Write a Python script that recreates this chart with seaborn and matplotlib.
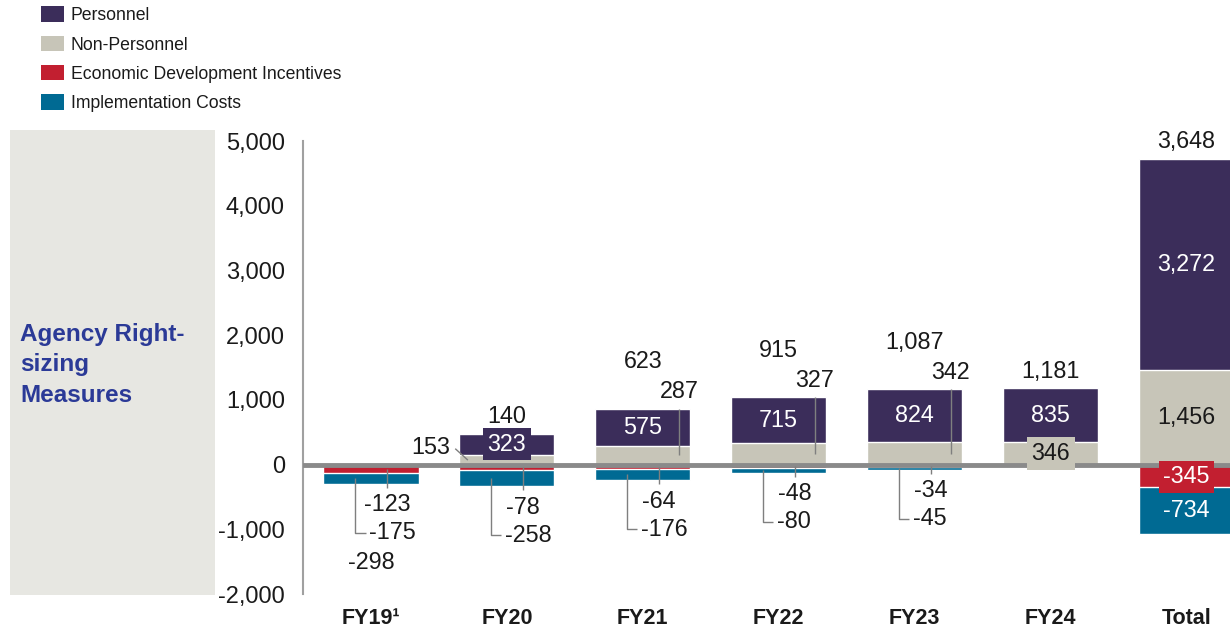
import matplotlib
matplotlib.use('Agg')
import matplotlib.pyplot as plt
import seaborn as sns
import numpy as np
import pandas as pd
from matplotlib.patches import Rectangle, Patch

# ---------------- data ----------------
categories = ['FY19\u00b9', 'FY20', 'FY21', 'FY22', 'FY23', 'FY24', 'Total']
personnel = [0, 323, 575, 715, 824, 835, 3272]
non_personnel = [0, 153, 287, 327, 342, 346, 1456]
econ_dev = [-123, -78, -64, -48, -34, 0, -345]
implementation = [-175, -258, -176, -80, -45, 0, -734]
net_totals = [-298, 140, 623, 915, 1087, 1181, 3648]
y_ticks = [-2000, -1000, 0, 1000, 2000, 3000, 4000, 5000]
legend_labels = ['Personnel', 'Non-Personnel', 'Economic Development Incentives', 'Implementation Costs']
side_title = 'Agency Right-\nsizing\nMeasures'

# label placement styles per category
nonp_style = ['none', 'left', 'leader', 'leader', 'leader', 'inside', 'inside']
neg_style = ['leader', 'leader', 'leader', 'leader', 'leader', 'none', 'inside']

C_PERS = '#3B2D5A'
C_NONP = '#C7C5B8'
C_EDI = '#C21F30'
C_IMPL = '#006A93'
C_TEXT = '#1A1A1A'
C_LEAD = '#7F7F7F'

sns.set_style('white')
plt.rcParams['font.family'] = ['Liberation Sans', 'DejaVu Sans']

W, H = 1230, 633
fig = plt.figure(figsize=(W / 100, H / 100), dpi=100)

# grey side panel
fig.add_artist(Rectangle((10 / W, 1 - 595 / H), 205 / W, 465 / H, transform=fig.transFigure,
                         fc='#E7E7E2', ec='none', zorder=0))
fig.text(20 / W, 1 - 365 / H, side_title, ha='left', va='center', fontsize=17.5,
         fontweight='bold', color='#2B3A97', linespacing=1.42)

ax = fig.add_axes([303 / W, 1 - 594 / H, 1 - 303 / W, (594 - 141) / H])
ax.patch.set_alpha(0)

df = pd.DataFrame({'cat': categories, 'pers': personnel, 'nonp': non_personnel,
                   'edi': econ_dev, 'impl': implementation})
df['pos_top'] = df['pers'] + df['nonp']
df['neg_bot'] = df['edi'] + df['impl']

bar_kw = dict(width=0.7, edgecolor='white', linewidth=1.0, ax=ax, order=categories,
              saturation=1, errorbar=None)
sns.barplot(data=df, x='cat', y='pos_top', color=C_PERS, **bar_kw)
sns.barplot(data=df, x='cat', y='nonp', color=C_NONP, **bar_kw)
sns.barplot(data=df, x='cat', y='neg_bot', color=C_IMPL, **bar_kw)
sns.barplot(data=df, x='cat', y='edi', color=C_EDI, **bar_kw)

ax.axhline(0, color='#8A8A8A', lw=3.5, zorder=3)

ax.set_ylim(-2000, 5000)
ax.set_xlim(-0.5, 6.32)
ax.set_yticks(y_ticks)
ax.set_yticklabels([f'{v:,}' for v in y_ticks])
ax.set_xlabel('')
ax.set_ylabel('')
for s in ['top', 'right', 'bottom']:
    ax.spines[s].set_visible(False)
ax.spines['left'].set_color('#A0A0A0')
ax.spines['left'].set_linewidth(1.5)
ax.tick_params(axis='y', direction='in', length=6, width=1.2, color='#A0A0A0', pad=13,
               labelsize=17, labelcolor=C_TEXT)
ax.tick_params(axis='x', length=0, pad=10)
for lbl in ax.get_xticklabels():
    lbl.set_fontfamily(['Liberation Sans Narrow', 'Liberation Sans', 'DejaVu Sans'])
    lbl.set_fontweight('bold')
    lbl.set_fontsize(15.5)
    lbl.set_color(C_TEXT)

lead = dict(color=C_LEAD, lw=1.0, zorder=4, solid_capstyle='butt')
txt = dict(fontsize=16.8, color=C_TEXT, zorder=6)
PX = 7000 / 453.0  # data units per pixel


def seg_label(x, y, val, color, fc):
    kw = dict(txt)
    kw['color'] = color
    bbox = None
    if abs(val) < 400:
        bbox = dict(boxstyle='square,pad=0.2', fc=fc, ec='none')
    ax.text(x, y, f'{val:,}', ha='center', va='center', bbox=bbox, **kw)


n = len(categories)
for i in range(n):
    x = i
    p, q, e, m = personnel[i], non_personnel[i], econ_dev[i], implementation[i]
    top = p + q
    bot = e + m
    # personnel label
    if p > 0:
        seg_label(x, q + p / 2, p, 'white', C_PERS)
    # non-personnel label
    st = nonp_style[i]
    if st == 'inside':
        seg_label(x, q / 2, q, C_TEXT, C_NONP)
    elif st == 'leader':
        lx = x + 0.265
        ax.plot([lx, lx], [q / 2, top], **lead)
        ax.text(lx, top + 17 * PX, f'{q:,}', ha='center', va='center', **txt)
    elif st == 'left':
        ax.plot([x - 0.38, x - 0.287], [q + 6 * PX, q * 0.45], **lead)
        ax.text(x - 0.56, q + 7.5 * PX, f'{q:,}', ha='center', va='center', **txt)
    # negative labels
    ns = neg_style[i]
    if ns == 'inside':
        seg_label(x, e / 2 - 1 * PX, e, 'white', C_EDI)
        seg_label(x, e + m / 2, m, 'white', C_IMPL)
    elif ns == 'leader':
        lx = x + 0.12
        ax.plot([lx, lx], [e / 2, bot - 4 * PX], **lead)
        ax.text(lx, bot - 21 * PX, f'{e:,}', ha='center', va='center', **txt)
        ex = x - 0.115
        ey = bot - 49 * PX
        ax.plot([ex, ex, x - 0.04], [e + m / 2, ey, ey], **lead)
        ax.text(x - 0.015, ey, f'{m:,}', ha='left', va='center', **txt)
    # net total label
    net = net_totals[i]
    if net < 0:
        y = bot - 79 * PX
    elif st == 'leader':
        y = top + 47 * PX
    else:
        y = top + 17 * PX
    ax.text(x, y, f'{net:,}', ha='center', va='center', **txt)

handles = [Patch(fc=c, ec='none', label=l) for c, l in zip([C_PERS, C_NONP, C_EDI, C_IMPL], legend_labels)]
fig.legend(handles=handles, loc='upper left', bbox_to_anchor=(41 / W, 1 - 6.5 / H), frameon=False,
           fontsize=12.7, handlelength=1.3, handleheight=0.97, handletextpad=0.4,
           labelspacing=0.65, borderaxespad=0, borderpad=0, labelcolor=C_TEXT)

fig.savefig('out.png', dpi=100)
